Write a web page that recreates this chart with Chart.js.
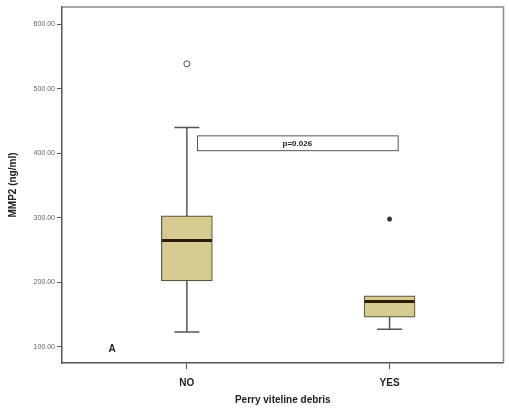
<!DOCTYPE html>
<html>
<head>
<meta charset="utf-8">
<script src="https://cdn.jsdelivr.net/npm/chart.js@4.4.1/dist/chart.umd.min.js"></script>
<style>
  html, body { margin: 0; padding: 0; background: #fff; }
  #wrap { width: 509px; height: 409px; }
</style>
</head>
<body>
<div id="wrap"><canvas id="chart"></canvas></div>
<script>
// groups
var groups   = ['NO', 'YES'];
var groupPos = [1, 2];

// box plot stats (MMP2 ng/ml)
var whiskerLow  = [123, 127];
var q1          = [202, 146];
var medians     = [265, 170];
var q3          = [303, 179];
var whiskerHigh = [440, 179];

// outliers
var outlierCircle = [{x: 1, y: 539}];
var outlierStar   = [{x: 2, y: 298}];

// y ticks
var yTicks = [100, 200, 300, 400, 500, 600];

// p-value annotation
var pText  = 'p=0.026';
var pRange = {x: [1.05, 2.04], y: [405, 428]};
var panelLabel = 'A';

var FONT = "'Liberation Sans', Arial, sans-serif";

// whiskers, medians, frame, annotation
var boxExtras = {
    id: 'boxExtras',
    beforeDatasetsDraw: function(chart){
        var ctx = chart.ctx, xs = chart.scales.x, ys = chart.scales.y;
        ctx.save();
        ctx.strokeStyle = '#555';
        ctx.lineWidth = 1.5;
        groupPos.forEach(function(p, i){
            var cx = xs.getPixelForValue(p);
            var capW = 12.5;
            ctx.beginPath();
            ctx.moveTo(cx, ys.getPixelForValue(whiskerLow[i]));
            ctx.lineTo(cx, ys.getPixelForValue(q1[i]));
            ctx.moveTo(cx, ys.getPixelForValue(q3[i]));
            ctx.lineTo(cx, ys.getPixelForValue(whiskerHigh[i]));
            ctx.moveTo(cx - capW, ys.getPixelForValue(whiskerLow[i]));
            ctx.lineTo(cx + capW, ys.getPixelForValue(whiskerLow[i]));
            if (whiskerHigh[i] > q3[i]) {
                ctx.moveTo(cx - capW, ys.getPixelForValue(whiskerHigh[i]));
                ctx.lineTo(cx + capW, ys.getPixelForValue(whiskerHigh[i]));
            }
            ctx.stroke();
        });
        ctx.restore();
    },
    afterDatasetsDraw: function(chart){
        var ctx = chart.ctx, xs = chart.scales.x, ys = chart.scales.y, a = chart.chartArea;
        ctx.save();
        // medians
        ctx.strokeStyle = '#2a1c0a';
        ctx.lineWidth = 3;
        groupPos.forEach(function(p, i){
            var cx = xs.getPixelForValue(p);
            var y = ys.getPixelForValue(medians[i]);
            ctx.beginPath();
            ctx.moveTo(cx - 25, y);
            ctx.lineTo(cx + 25, y);
            ctx.stroke();
        });
        // p-value box
        var x0 = xs.getPixelForValue(pRange.x[0]), x1 = xs.getPixelForValue(pRange.x[1]);
        var y0 = ys.getPixelForValue(pRange.y[1]), y1 = ys.getPixelForValue(pRange.y[0]);
        ctx.fillStyle = '#fff';
        ctx.fillRect(x0, y0, x1 - x0, y1 - y0);
        ctx.strokeStyle = '#555';
        ctx.lineWidth = 1;
        ctx.strokeRect(x0 + 0.5, y0 + 0.5, x1 - x0, y1 - y0);
        ctx.fillStyle = '#222';
        ctx.font = 'bold 8px ' + FONT;
        ctx.textAlign = 'center';
        ctx.textBaseline = 'middle';
        ctx.fillText(pText, (x0 + x1) / 2, (y0 + y1) / 2 + 1);
        // panel label
        ctx.font = 'bold 10px ' + FONT;
        ctx.fillText(panelLabel, 112, 349);
        // top and right frame
        ctx.strokeStyle = '#8a8a8a';
        ctx.lineWidth = 1.5;
        ctx.beginPath();
        ctx.moveTo(a.left, a.top);
        ctx.lineTo(a.right, a.top);
        ctx.lineTo(a.right, a.bottom);
        ctx.stroke();
        ctx.restore();
    }
};

new Chart(document.getElementById('chart'), {
    type: 'bar',
    data: {
        datasets: [
            {
                type: 'bar',
                data: groupPos.map(function(p, i){ return {x: p, y: [q1[i], q3[i]]}; }),
                backgroundColor: '#d7cc8f',
                borderColor: '#5c5640',
                borderWidth: 1.2,
                borderSkipped: false,
                barThickness: 51
            },
            {
                type: 'scatter',
                data: outlierCircle,
                pointStyle: 'circle',
                pointRadius: 3,
                backgroundColor: '#fff',
                borderColor: '#555',
                borderWidth: 1
            },
            {
                type: 'scatter',
                data: outlierStar,
                pointStyle: 'star',
                pointRadius: 2.5,
                backgroundColor: '#333',
                borderColor: '#333',
                borderWidth: 1.5
            }
        ]
    },
    options: {
        responsive: true,
        maintainAspectRatio: false,
        animation: false,
        layout: { padding: { top: 7, right: 5, left: 0, bottom: 0 } },
        plugins: {
            legend: { display: false },
            tooltip: { enabled: false }
        },
        scales: {
            x: {
                type: 'linear',
                min: 0.384,
                max: 2.562,
                offset: false,
                afterBuildTicks: function(s){ s.ticks = groupPos.map(function(v){ return {value: v}; }); },
                afterFit: function(s){ s.height = 46; },
                ticks: {
                    callback: function(v){ return groups[groupPos.indexOf(v)]; },
                    font: { family: FONT, size: 10, weight: 'bold' },
                    color: '#222',
                    padding: 8,
                    maxRotation: 0
                },
                grid: { drawOnChartArea: false, offset: false, tickLength: 6, color: '#555' },
                border: { color: '#555', width: 1.5 },
                title: {
                    display: true,
                    text: 'Perry viteline debris',
                    font: { family: FONT, size: 10, weight: 'bold' },
                    color: '#222',
                    padding: { top: 0, bottom: 3 }
                }
            },
            y: {
                min: 74.7,
                max: 627.2,
                afterBuildTicks: function(s){ s.ticks = yTicks.map(function(v){ return {value: v}; }); },
                afterFit: function(s){ s.width = 62; },
                ticks: {
                    callback: function(v){ return v.toFixed(2); },
                    font: { family: FONT, size: 7 },
                    color: '#666',
                    padding: 2
                },
                grid: { drawOnChartArea: false, tickLength: 5, color: '#555' },
                border: { color: '#555', width: 1.5 },
                title: {
                    display: true,
                    text: 'MMP2 (ng/ml)',
                    font: { family: FONT, size: 10, weight: 'bold' },
                    color: '#222',
                    padding: { top: 7, bottom: 0 }
                }
            }
        }
    },
    plugins: [boxExtras]
});
</script>
</body>
</html>
